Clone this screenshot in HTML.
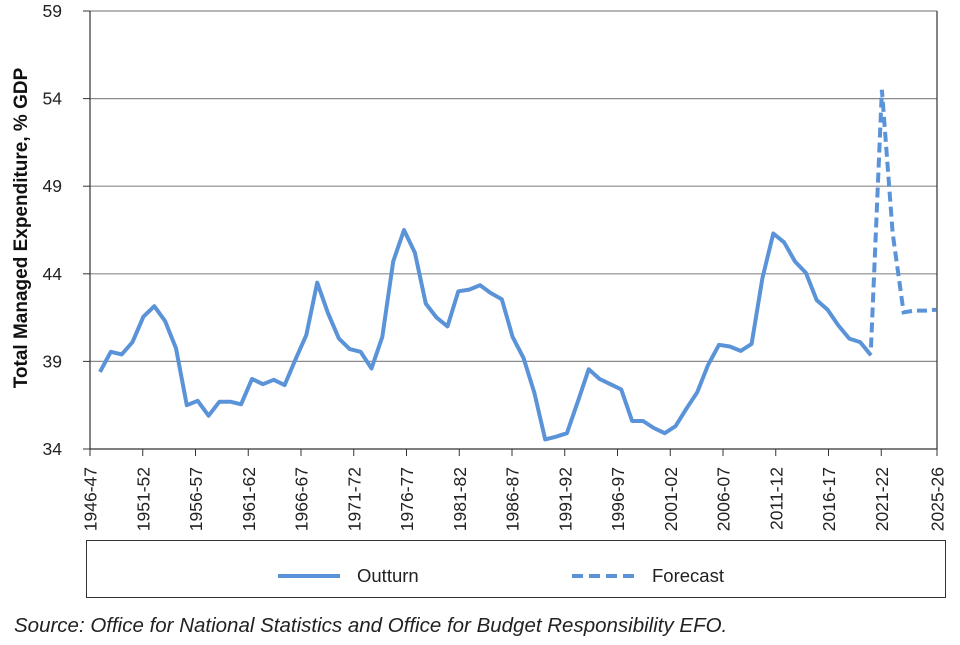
<!DOCTYPE html>
<html><head><meta charset="utf-8"><style>
body{margin:0;background:#fff;}
svg text{font-family:"Liberation Sans",Arial,sans-serif;}
</style></head><body>
<svg id="chart" width="960" height="640" viewBox="0 0 960 640" xmlns="http://www.w3.org/2000/svg">
<g id="grid"></g>
<g id="axes"></g>
<g id="series"></g>
<text transform="translate(27,228) rotate(-90)" text-anchor="middle" font-size="19" font-weight="bold" fill="#111">Total Managed Expenditure, % GDP</text>
<g>
<rect x="86.5" y="540.5" width="859" height="57" fill="none" stroke="#333" stroke-width="1"/>
<line x1="278" y1="576" x2="340" y2="576" stroke="#5b93d8" stroke-width="4"/>
<text x="357" y="582" font-size="18.5" fill="#222">Outturn</text>
<line x1="572" y1="576" x2="635" y2="576" stroke="#5b93d8" stroke-width="4" stroke-dasharray="11,6"/>
<text x="652" y="582" font-size="18.5" fill="#222">Forecast</text>
</g>
<text x="14" y="632" font-size="20.5" font-style="italic" fill="#222">Source: Office for National Statistics and Office for Budget Responsibility EFO.</text>
</svg>
<script>
const outturnStart = 1;
const outturn = [38.4,39.55,39.4,40.1,41.55,42.15,41.3,39.75,36.5,36.75,35.9,36.7,36.7,36.55,38.0,37.7,37.95,37.65,39.1,40.5,43.5,41.75,40.3,39.7,39.55,38.6,40.4,44.7,46.5,45.2,42.3,41.5,41.0,43.0,43.1,43.35,42.9,42.55,40.4,39.2,37.2,34.55,34.7,34.9,36.7,38.55,38.0,37.7,37.4,35.6,35.6,35.2,34.9,35.3,36.3,37.25,38.8,39.95,39.85,39.6,40.0,43.75,46.3,45.8,44.7,44.05,42.5,41.95,41.05,40.3,40.1,39.35];
const forecastStart = 72;
const forecast = [39.8,54.5,46.3,41.8,41.9,41.9,41.95];
const yTicks = [34,39,44,49,54,59];
const xTickLabels = ["1946-47","1951-52","1956-57","1961-62","1966-67","1971-72","1976-77","1981-82","1986-87","1991-92","1996-97","2001-02","2006-07","2011-12","2016-17","2021-22","2025-26"];
const xTickIdx = [0,5,10,15,20,25,30,35,40,45,50,55,60,65,70,75,79];

const NS="http://www.w3.org/2000/svg";
const L=90,R=937,T=11,B=449;
const x=i=>89.1+i*10.86;
const y=v=>T+(59-v)*(B-T)/(59-34);
const tickX=i=>i>=79?R:L+i*10.55;
function mk(tag,attrs,parent){const e=document.createElementNS(NS,tag);for(const k in attrs)e.setAttribute(k,attrs[k]);parent.appendChild(e);return e;}
const grid=document.getElementById('grid'),axes=document.getElementById('axes'),series=document.getElementById('series');
yTicks.forEach(v=>{
  if(v>34){const g=mk('line',{x1:L,x2:R,y1:y(v),y2:y(v),stroke:'#8a8a8a','stroke-width':1.2},grid);
  
  }
  const t=mk('line',{x1:83,x2:L,y1:y(v),y2:y(v),stroke:'#333','stroke-width':1},axes);
  
  
  const lb=mk('text',{x:62,y:y(v)+6,'text-anchor':'end','font-size':17.5,fill:'#222'},axes);
  lb.textContent=v;
  
  
});
const ya=mk('line',{x1:L,x2:L,y1:T,y2:B,stroke:'#333','stroke-width':1.2},axes);


const ra=mk('line',{x1:R,x2:R,y1:T,y2:B,stroke:'#333','stroke-width':1.2},axes);


const xa=mk('line',{x1:L,x2:R,y1:B,y2:B,stroke:'#333','stroke-width':1.2},axes);


xTickIdx.forEach((i,k)=>{
  const px=tickX(i);
  const t=mk('line',{x1:px,x2:px,y1:B,y2:B+7,stroke:'#333','stroke-width':1},axes);
  
  
  const lb=mk('text',{transform:`translate(${px+6.5},${B+18}) rotate(-90)`,'text-anchor':'end','font-size':17.5,fill:'#222'},axes);
  lb.textContent=xTickLabels[k];
  
  
});
const op=outturn.map((v,k)=>x(outturnStart+k).toFixed(1)+','+y(v).toFixed(1)).join(' ');
const o=mk('polyline',{points:op,fill:'none',stroke:'#5b93d8','stroke-width':4,'stroke-linejoin':'round'},series);


const fp=forecast.map((v,k)=>Math.min(x(forecastStart+k),R).toFixed(1)+','+y(v).toFixed(1)).join(' ');
const f=mk('polyline',{points:fp,fill:'none',stroke:'#5b93d8','stroke-width':4,'stroke-dasharray':'10,5'},series);


</script>
</body></html>
